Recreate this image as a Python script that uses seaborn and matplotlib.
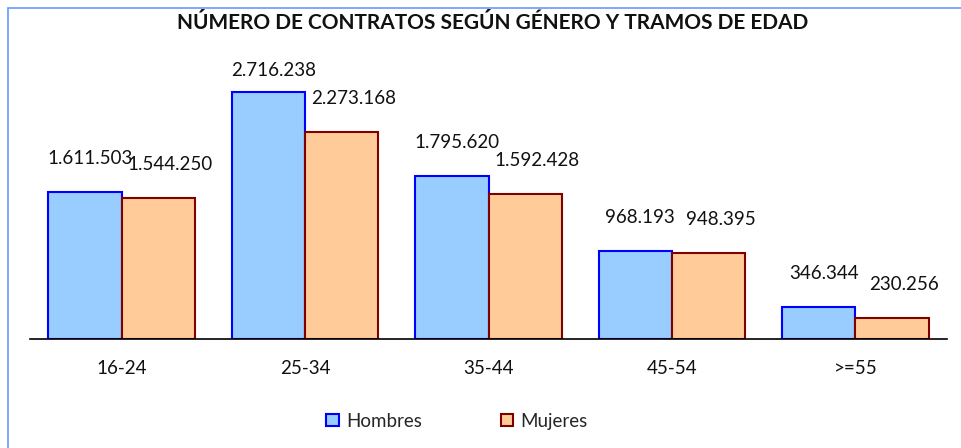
import pandas as pd
import matplotlib.pyplot as plt
import seaborn as sns
from matplotlib.patches import Patch
from matplotlib.lines import Line2D

tramos = ["16-24", "25-34", "35-44", "45-54", ">=55"]
hombres = [1611503, 2716238, 1795620, 968193, 346344]
mujeres = [1544250, 2273168, 1592428, 948395, 230256]

df = pd.DataFrame(
    {
        "tramo": tramos * 2,
        "contratos": hombres + mujeres,
        "genero": ["Hombres"] * len(tramos) + ["Mujeres"] * len(tramos),
    }
)

fill = {"Hombres": "#99CCFF", "Mujeres": "#FFCC99"}
edge = {"Hombres": "#0000FF", "Mujeres": "#800000"}

sns.set_style("white")
plt.rcParams["font.family"] = ["Lato", "DejaVu Sans"]
plt.rcParams["font.size"] = 13.5

fig = plt.figure(figsize=(9.61, 4.48), dpi=100)
ax = fig.add_axes([30 / 961, 109 / 448, 917 / 961, 273 / 448])

sns.barplot(
    data=df,
    x="tramo",
    y="contratos",
    hue="genero",
    palette=fill,
    saturation=1,
    width=0.8,
    ax=ax,
    legend=False,
)

top = max(hombres + mujeres)
for cont, gen in zip(ax.containers, ["Hombres", "Mujeres"]):
    dx = 5 if gen == "Hombres" else 12
    for bar in cont:
        bar.set_edgecolor(edge[gen])
        bar.set_linewidth(1.5)
        v = bar.get_height()
        # the tallest label sits closer to its bar, as in the original
        dy = 13 if v == top else 25
        ax.annotate(
            f"{int(v):,}".replace(",", "."),
            (bar.get_x() + bar.get_width() / 2, v),
            xytext=(dx, dy),
            textcoords="offset pixels",
            ha="center",
            va="bottom",
            fontsize=13.5,
            color="#111111",
        )

ax.set_ylim(0, 3000000)
ax.set_xlim(-0.5, 4.5)
ax.set_yticks([])
ax.set_xlabel("")
ax.set_ylabel("")
ax.tick_params(axis="x", length=0, pad=15, labelsize=13.5, labelcolor="#111111")
for s in ["left", "right", "top"]:
    ax.spines[s].set_visible(False)
ax.spines["bottom"].set_color("black")
ax.spines["bottom"].set_linewidth(1.2)

fig.text(
    493 / 961,
    1 - 23 / 448,
    "NÚMERO DE CONTRATOS SEGÚN GÉNERO Y TRAMOS DE EDAD",
    ha="center",
    va="center",
    fontsize=15,
    fontweight="bold",
    color="#111111",
)

handles = [
    Patch(facecolor=fill[g], edgecolor=edge[g], linewidth=1.5, label=g)
    for g in ["Hombres", "Mujeres"]
]
fig.legend(
    handles=handles,
    loc="center",
    bbox_to_anchor=(457 / 961, 1 - 421 / 448),
    ncol=2,
    frameon=False,
    handlelength=0.65,
    handleheight=0.65,
    handletextpad=0.4,
    columnspacing=4.2,
    fontsize=13.5,
)

# light blue frame around the chart area
fig.add_artist(Line2D([8 / 961, 8 / 961], [0, 1 - 8 / 448], color="#6699FF", lw=1.2))
fig.add_artist(Line2D([8 / 961, 1], [1 - 8 / 448, 1 - 8 / 448], color="#6699FF", lw=1.2))

fig.savefig("out.png", dpi=100)
